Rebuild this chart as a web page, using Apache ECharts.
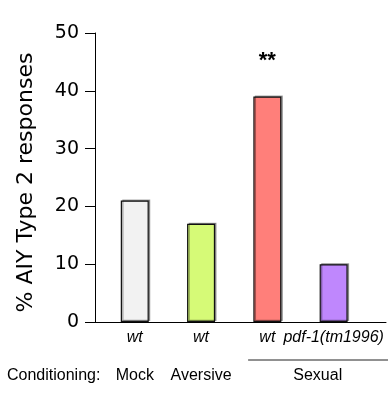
<!DOCTYPE html>
<html>
<head>
<meta charset="utf-8">
<script src="https://cdn.jsdelivr.net/npm/echarts@6/dist/echarts.min.js"></script>
<style>html,body{margin:0;padding:0;background:#fff}#c{width:390px;height:394px}</style>
</head>
<body>
<div id="c"></div>
<script>
var genotypes = ['wt', 'wt', 'wt', 'pdf-1(tm1996)'];
var positions = [0, 1, 2, 3];
var values = [21, 17, 39, 10];
var colors = ['#f2f2f2', '#d6fa77', '#ff7f7a', '#bf87fd'];
var conditionNames = ['Mock', 'Aversive', 'Sexual'];
var conditionPositions = [0, 1, 2.76];
var yTicks = [0, 10, 20, 30, 40, 50];
var significance = ['', '', '**', ''];

var chart = echarts.init(document.getElementById('c'), null, {renderer: 'canvas'});
var barData = positions.map(function (p, i) {
  var d = {
    value: [p, values[i]],
    itemStyle: {color: colors[i]}
  };
  if (significance[i]) {
    d.label = {
      show: true, position: 'top', distance: 25, formatter: significance[i],
      fontSize: 22, fontWeight: 'bold', color: '#000', fontFamily: 'Liberation Sans'
    };
  }
  return d;
});
var labelMap = {};
positions.forEach(function (p, i) { labelMap[p] = genotypes[i]; });
var condMap = {};
conditionPositions.forEach(function (p, i) { condMap[p] = conditionNames[i]; });

chart.setOption({
  animation: false,
  grid: {left: 95, right: 4, top: 33, bottom: 72},
  xAxis: [{
    type: 'value', min: -0.6, max: 3.79,
    splitLine: {show: false},
    axisLine: {show: true, onZero: false, lineStyle: {color: '#000', width: 1}},
    axisTick: {show: false},
    axisLabel: {
      customValues: positions, margin: 8, fontSize: 16, fontStyle: 'italic',
      fontFamily: 'Liberation Sans', color: '#000',
      formatter: function (v) { return labelMap[v] !== undefined ? labelMap[v] : ''; }
    }
  }, {
    type: 'value', min: -0.6, max: 3.79, position: 'bottom',
    splitLine: {show: false},
    axisLine: {show: false, onZero: false},
    axisTick: {show: false},
    axisLabel: {
      customValues: conditionPositions, margin: 46, fontSize: 16,
      fontFamily: 'Liberation Sans', color: '#000',
      formatter: function (v) { return condMap[v] !== undefined ? condMap[v] : ''; }
    }
  }],
  yAxis: {
    type: 'value', min: yTicks[0], max: yTicks[yTicks.length - 1], interval: 10,
    splitLine: {show: false},
    axisLine: {show: true, onZero: false, lineStyle: {color: '#000', width: 1}},
    axisTick: {show: true, length: 10, lineStyle: {color: '#000'}},
    axisLabel: {margin: 16, fontSize: 19, fontFamily: 'DejaVu Sans', color: '#000'},
    name: '% AIY Type 2 responses',
    nameLocation: 'middle', nameGap: 58, nameRotate: 90,
    nameTextStyle: {fontSize: 22, fontFamily: 'DejaVu Sans', color: '#000', padding: [0, 10, 0, 0]}
  },
  series: [{
    type: 'bar', xAxisIndex: 0, barWidth: 28,
    itemStyle: {borderColor: '#111', borderWidth: 1.2,
      shadowColor: 'rgba(0,0,0,0.35)', shadowOffsetX: 1.5, shadowOffsetY: -1, shadowBlur: 0},
    data: barData
  }]
});

var x1 = chart.convertToPixel({xAxisIndex: 0}, 1.71);
var x2 = chart.convertToPixel({xAxisIndex: 0}, 3.82);
chart.setOption({
  graphic: [{
    type: 'line', shape: {x1: x1, y1: 360, x2: x2, y2: 360},
    style: {stroke: '#222', lineWidth: 1}
  }, {
    type: 'text', left: 7, top: 368,
    style: {text: 'Conditioning:', fontSize: 16, fontFamily: 'Liberation Sans', fill: '#000'}
  }]
});
</script>
</body>
</html>
